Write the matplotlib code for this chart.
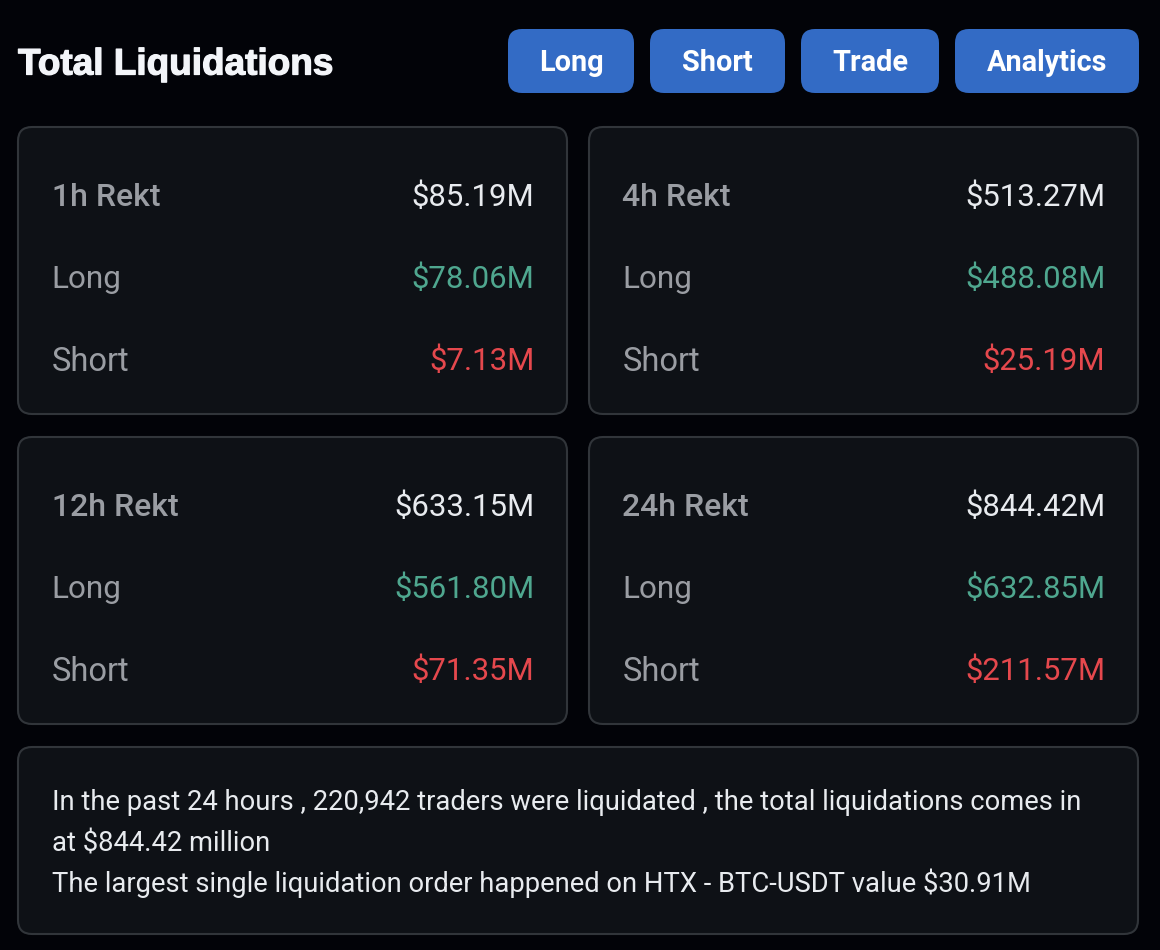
import matplotlib
matplotlib.use('Agg')
import matplotlib.pyplot as plt
import matplotlib.patheffects as pe
from matplotlib.patches import FancyBboxPatch

plt.rcParams['font.family'] = ['Roboto', 'DejaVu Sans']

# values
periods = ['1h Rekt', '4h Rekt', '12h Rekt', '24h Rekt']
totals = ['$85.19M', '$513.27M', '$633.15M', '$844.42M']
longs = ['$78.06M', '$488.08M', '$561.80M', '$632.85M']
shorts = ['$7.13M', '$25.19M', '$71.35M', '$211.57M']
buttons = ['Long', 'Short', 'Trade', 'Analytics']
summary = ['In the past 24 hours , 220,942 traders were liquidated , the total liquidations comes in',
           'at $844.42 million',
           'The largest single liquidation order happened on HTX - BTC-USDT value $30.91M']

BG = '#020308'
CARD = '#0e1116'
EDGE = '#31353a'
BLUE = '#336bc5'
GREY = '#9a9da3'
WHITE = '#e8ebef'
GREEN = '#4fa78f'
RED = '#e5484d'

fig = plt.figure(figsize=(11.6, 9.5), dpi=100, facecolor=BG)
ax = fig.add_axes([0, 0, 1, 1])
ax.set_xlim(0, 1160)
ax.set_ylim(950, 0)
ax.axis('off')


def box(x0, y0, x1, y1, r, fc, ec='none', lw=0):
    p = FancyBboxPatch((x0 + r, y0 + r), x1 - x0 - 2 * r, y1 - y0 - 2 * r,
                       boxstyle='round,pad=%d,rounding_size=%d' % (r, r),
                       fc=fc, ec=ec, lw=lw)
    ax.add_patch(p)


# header, the stroke thickens the bold to the reference weight
title = ax.text(18, 61, 'Total Liquidations', color='#f3f5f9', fontsize=26.6, fontweight='bold',
                family=['Liberation Sans', 'DejaVu Sans'], va='center_baseline', ha='left')
title.set_path_effects([pe.withStroke(linewidth=0.9, foreground='#f3f5f9')])
btn_x = [(508, 634), (650, 785), (801, 939), (955, 1139)]
for name, (x0, x1) in zip(buttons, btn_x):
    box(x0, 29, x1, 93, 14, BLUE)
    ax.text((x0 + x1) / 2, 60, name, color='white', fontsize=20.8, fontweight='bold',
            va='center_baseline', ha='center')

# four cards
card_x = [18, 589, 18, 589]
card_y = [127, 127, 437, 437]
for i in range(4):
    x, y = card_x[i], card_y[i]
    box(x, y, x + 549, y + 287, 14, CARD, EDGE, 1.5)
    left = x + 33.5
    right = x + 516.5
    ax.text(left, y + 67, periods[i], color=GREY, fontsize=23, fontweight='medium', va='center_baseline')
    ax.text(right, y + 67, totals[i], color=WHITE, fontsize=22.4, ha='right', va='center_baseline')
    ax.text(left, y + 149, 'Long', color=GREY, fontsize=22.7, va='center_baseline')
    ax.text(right, y + 149, longs[i], color=GREEN, fontsize=22.4, ha='right', va='center_baseline')
    ax.text(left, y + 231.5, 'Short', color=GREY, fontsize=23.5, va='center_baseline')
    ax.text(right, y + 231.5, shorts[i], color=RED, fontsize=22.4, ha='right', va='center_baseline')

# summary box
box(18, 747, 1138, 934, 14, CARD, EDGE, 1.5)
line_y = [799, 841, 880]
for s, y in zip(summary, line_y):
    ax.text(51.5, y, s, color=WHITE, fontsize=19.7, va='center_baseline')

fig.savefig('out.png', dpi=100, facecolor=BG)
